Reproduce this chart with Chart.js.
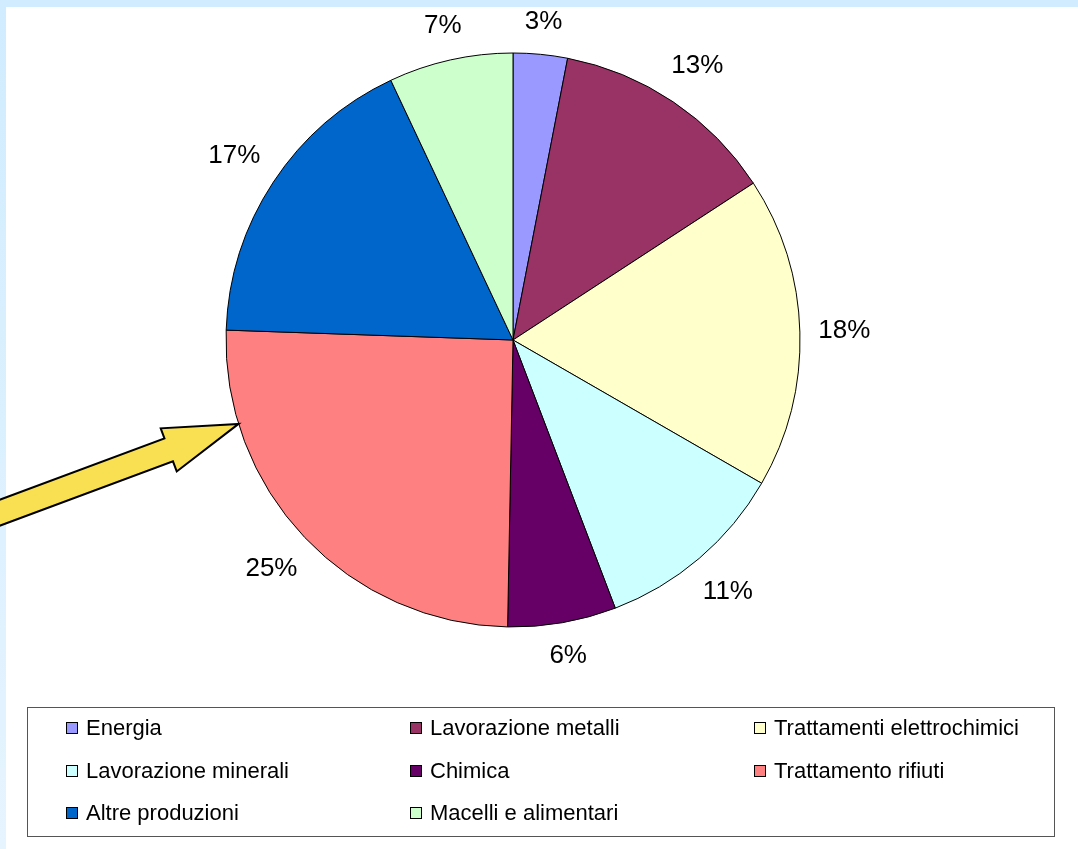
<!DOCTYPE html>
<html>
<head>
<meta charset="utf-8">
<script src="https://cdn.jsdelivr.net/npm/chart.js@4"></script>
<style>
  html, body { margin: 0; padding: 0; background: #fff; }
  #page { position: relative; width: 1078px; height: 849px; overflow: hidden; background: #fff; }
  #stripTop { position: absolute; left: 0; top: 0; width: 1078px; height: 7px; background: #d0ecfe; }
  #stripLeft { position: absolute; left: 0; top: 0; width: 6px; height: 849px;
    background: linear-gradient(#d0ecfe, #e6f4fe); }
  #chart { position: absolute; left: 0; top: 0; }
  #legend { position: absolute; left: 27px; top: 707px; width: 1026px; height: 128px;
    border: 1px solid #555; font-family: "Liberation Sans", Arial, sans-serif; font-size: 22px; color: #000; }
  .item { position: absolute; display: flex; align-items: center; height: 26px; white-space: nowrap; }
  .swatch { width: 12px; height: 12px; box-sizing: border-box; border: 1px solid #000; margin-right: 8px; }
</style>
</head>
<body>
<div id="page">
  <div id="stripTop"></div>
  <div id="stripLeft"></div>
  <canvas id="chart" width="1078" height="849"></canvas>
  <div id="legend"></div>
</div>
<script>
const labels = [
  "Energia", "Lavorazione metalli", "Trattamenti elettrochimici",
  "Lavorazione minerali", "Chimica", "Trattamento rifiuti",
  "Altre produzioni", "Macelli e alimentari"
];
// shares (labels show them rounded)
const values = [3.05, 12.75, 17.52, 10.88, 6.1, 25.25, 17.45, 7.0];
const colors = [
  "#9999ff", "#993366", "#ffffcc", "#ccffff",
  "#660066", "#ff8080", "#0066cc", "#ccffcc"
];

// --- percentage labels outside each slice ---
const outsideLabels = {
  id: "outsideLabels",
  afterDatasetsDraw(chart) {
    const ctx = chart.ctx;
    const meta = chart.getDatasetMeta(0);
    const total = values.reduce((a, b) => a + b, 0);
    ctx.save();
    ctx.font = "26px 'Liberation Sans', Arial, sans-serif";
    ctx.fillStyle = "#000";
    ctx.textAlign = "center";
    ctx.textBaseline = "middle";
    meta.data.forEach((arc, i) => {
      const txt = Math.round((values[i] * 100) / total) + "%";
      const mid = (arc.startAngle + arc.endAngle) / 2;
      const cx = Math.cos(mid), cy = Math.sin(mid);
      const hw = ctx.measureText(txt).width / 2, hh = 13;
      const dist = arc.outerRadius + 18 + Math.abs(cx) * hw + Math.abs(cy) * hh;
      ctx.fillText(txt, arc.x + cx * dist, arc.y + cy * dist);
    });
    ctx.restore();
  },
};

// --- yellow block arrow pointing at "Trattamento rifiuti" ---
const pointerArrow = {
  id: "pointerArrow",
  afterDraw(chart) {
    const ctx = chart.ctx;
    const arc = chart.getDatasetMeta(0).data[5];
    const a = (253 - 90) * Math.PI / 180; // position on the rim, clockwise from top
    const tx = arc.x + Math.cos(a) * arc.outerRadius;
    const ty = arc.y + Math.sin(a) * arc.outerRadius;
    const dir = -20.4 * Math.PI / 180;
    const dx = Math.cos(dir), dy = Math.sin(dir);
    const nx = -dy, ny = dx;
    const pt = (u, v) => [tx + dx * u + nx * v, ty + dy * u + ny * v];
    const pts = [
      pt(0, 0), pt(-74.5, 23), pt(-74.5, 12.2), pt(-300, 12.2),
      pt(-300, -12.2), pt(-74.5, -12.2), pt(-74.5, -23),
    ];
    ctx.save();
    ctx.beginPath();
    pts.forEach(([x, y], i) => (i ? ctx.lineTo(x, y) : ctx.moveTo(x, y)));
    ctx.closePath();
    ctx.fillStyle = "#f9df52";
    ctx.fill();
    ctx.lineWidth = 2;
    ctx.lineJoin = "miter";
    ctx.strokeStyle = "#000";
    ctx.stroke();
    ctx.restore();
  },
};

const chart = new Chart(document.getElementById("chart"), {
  type: "pie",
  data: {
    labels,
    datasets: [{
      data: values,
      backgroundColor: colors,
      borderColor: "#000",
      borderWidth: 1,
      hoverOffset: 0,
    }],
  },
  options: {
    responsive: false,
    animation: false,
    events: [],
    radius: 287,
    layout: { padding: { left: 0, top: 0, right: 52, bottom: 169 } },
    plugins: { legend: { display: false }, tooltip: { enabled: false } },
  },
  plugins: [outsideLabels, pointerArrow],
});

// --- legend box, three columns ---
const legendEl = document.getElementById("legend");
chart.data.labels.forEach((name, i) => {
  const col = i % 3, row = Math.floor(i / 3);
  const item = document.createElement("div");
  item.className = "item";
  item.style.left = (38 + col * 344) + "px";
  item.style.top = (7 + row * 42.5) + "px";
  const sw = document.createElement("span");
  sw.className = "swatch";
  sw.style.background = chart.data.datasets[0].backgroundColor[i];
  const tx = document.createElement("span");
  tx.textContent = name;
  item.appendChild(sw);
  item.appendChild(tx);
  legendEl.appendChild(item);
});
</script>
</body>
</html>
